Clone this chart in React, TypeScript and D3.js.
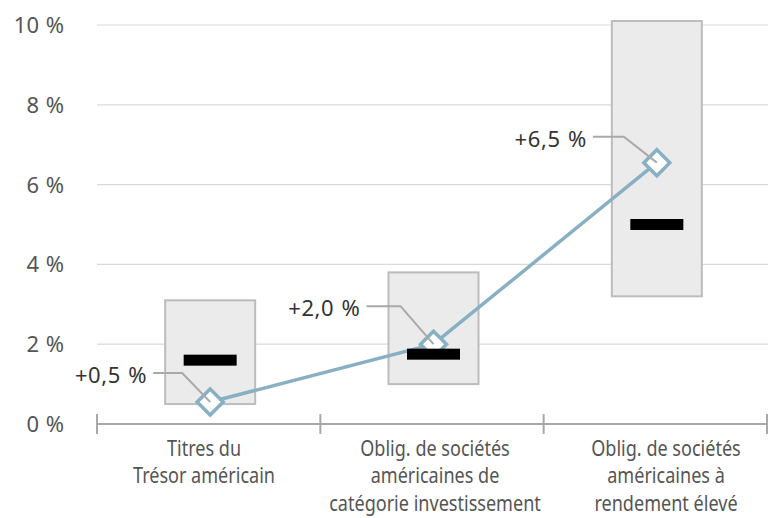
import React from "react";
import * as d3 from "d3";

const categories = [
  "Titres du Trésor américain",
  "Oblig. de sociétés américaines de catégorie investissement",
  "Oblig. de sociétés américaines à rendement élevé",
];
const categoryLines = [
  ["Titres du", "Trésor américain"],
  ["Oblig. de sociétés", "américaines de", "catégorie investissement"],
  ["Oblig. de sociétés", "américaines à", "rendement élevé"],
];
const rangeLow = [0.5, 1.0, 3.2];
const rangeHigh = [3.1, 3.8, 10.1];
const medianValues = [1.6, 1.75, 5.0];
const currentValues = [0.55, 2.0, 6.55];
const currentLabels = ["+0,5 %", "+2,0 %", "+6,5 %"];
const yTicks = [0, 2, 4, 6, 8, 10];

// annotation layout (leader line offsets relative to marker)
const labelOffsets = [
  { dy: -29, elbow: -28, start: -57 },
  { dy: -38, elbow: -33, start: -67 },
  { dy: -26, elbow: -33, start: -64 },
];

const W = 778;
const H = 518;
const FONT = "'Noto Sans', 'Open Sans', sans-serif";

export default function App() {
  const x = d3.scaleBand<string>().domain(categories).range([97, 767]).padding(0);
  const y = d3.scaleLinear().domain([0, 10]).range([424, 25]);
  const labelX = d3.scalePoint<string>().domain(categories).range([204, 666]);
  const cx = (c: string) => (x(c) as number) + x.bandwidth() / 2 + 1.5;

  const boxW = 90;
  const barW = 53;
  const barH = 11;
  const dHalf = 13;

  const pts: [number, number][] = categories.map((c, i) => [cx(c), y(currentValues[i])]);
  const line = d3.line<[number, number]>().x((d) => d[0]).y((d) => d[1]).curve(d3.curveLinear);

  const tickXs = [...categories.map((c) => x(c) as number), 767];

  return (
    <svg
      width={W}
      height={H}
      style={{ position: "absolute", left: 0, top: 0, background: "#fff" }}
      fontFamily={FONT}
    >
      {/* grid */}
      {yTicks.filter((t) => t > 0).map((t) => (
        <line key={t} x1={97} x2={768} y1={y(t)} y2={y(t)} stroke="#d9d9d9" strokeWidth={1.2} />
      ))}
      {/* y labels */}
      {yTicks.map((t) => (
        <text
          key={"l" + t}
          x={64}
          y={y(t) + 8}
          textAnchor="end"
          fontSize={22}
          fill="#555"
          style={{ wordSpacing: "1px" }}
        >
          {`${t} %`}
        </text>
      ))}
      {/* boxes */}
      {categories.map((c, i) => (
        <rect
          key={"b" + i}
          x={cx(c) - boxW / 2}
          y={y(rangeHigh[i])}
          width={boxW}
          height={y(rangeLow[i]) - y(rangeHigh[i])}
          fill="#ebebeb"
          stroke="#bcbcbc"
          strokeWidth={2}
        />
      ))}
      {/* x axis */}
      <line x1={97} x2={767} y1={y(0)} y2={y(0)} stroke="#a8a8a8" strokeWidth={2} />
      {tickXs.map((tx, i) => (
        <line key={"t" + i} x1={tx} x2={tx} y1={y(0) - 10} y2={y(0) + 10} stroke="#a8a8a8" strokeWidth={2} />
      ))}
      {/* line */}
      <path d={line(pts) || ""} fill="none" stroke="#88b0c2" strokeWidth={3.5} />
      {/* diamonds */}
      {pts.map(([px, py], i) => (
        <path
          key={"d" + i}
          d={`M${px},${py - dHalf}L${px + dHalf},${py}L${px},${py + dHalf}L${px - dHalf},${py}Z`}
          fill="#fff"
          stroke="#88b0c2"
          strokeWidth={3.5}
        />
      ))}
      {/* leader lines */}
      {pts.map(([px, py], i) => {
        const o = labelOffsets[i];
        return (
          <polyline
            key={"ll" + i}
            points={`${px + o.start},${py + o.dy} ${px + o.elbow},${py + o.dy} ${px},${py}`}
            fill="none"
            stroke="#a9a9a9"
            strokeWidth={2}
          />
        );
      })}
      {/* median bars */}
      {categories.map((c, i) => (
        <rect
          key={"m" + i}
          x={cx(c) - barW / 2}
          y={y(medianValues[i]) - barH / 2}
          width={barW}
          height={barH}
          fill="#000"
        />
      ))}
      {/* annotation labels */}
      {pts.map(([px, py], i) => {
        const o = labelOffsets[i];
        return (
          <text
            key={"al" + i}
            x={px + o.start - 6}
            y={py + o.dy + 10}
            textAnchor="end"
            fontSize={22}
            fill="#333"
            style={{ wordSpacing: "1px", letterSpacing: "0.6px" }}
          >
            {currentLabels[i]}
          </text>
        );
      })}
      {/* category labels */}
      {categories.map((c, i) => {
        const lx = labelX(c) as number;
        return (
          <g key={"c" + i} transform={`translate(${lx},0) scale(0.84,1)`}>
            {categoryLines[i].map((ln, j) => (
              <text
                key={j}
                x={0}
                y={456 + j * 27.5}
                textAnchor="middle"
                fontSize={21.5}
                fill="#555"
              >
                {ln}
              </text>
            ))}
          </g>
        );
      })}
    </svg>
  );
}
